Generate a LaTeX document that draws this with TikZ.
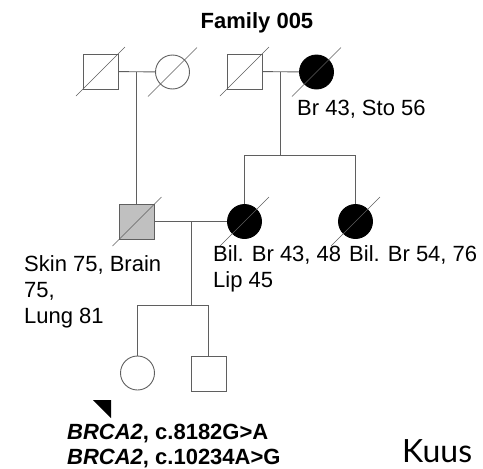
\documentclass[tikz,border=0pt]{standalone}
\usepackage{fontspec}
\setmainfont{Liberation Sans}
\newfontfamily\captionfont{Lato}
\usetikzlibrary{positioning,calc}
\definecolor{linecolor}{RGB}{95,95,95}
\definecolor{carriercolor}{RGB}{192,192,192}
\definecolor{affectedcolor}{RGB}{0,0,0}
\tikzset{
    person/.style={
        inner sep=0pt,
        draw=linecolor,
        line width=0.9pt,
        fill=white
    },
    male/.style={person, rectangle, minimum size=35pt},
    female/.style={person, circle, minimum size=34pt},
    affected/.style={fill=affectedcolor, draw=black},
    carrier/.style={fill=carriercolor},
    line/.style={draw=linecolor, line width=0.9pt},
    slash/.style={draw=linecolor, line width=0.6pt},
    infotext/.style={
        anchor=base west,
        inner sep=0pt,
        align=left,
        font=\fontsize{22}{26}\selectfont
    }
}

\begin{document}
\begin{tikzpicture}[x=1pt, y=-1pt]
    \useasboundingbox (0,0) rectangle (483,469);
    \node[font=\fontsize{22}{26}\selectfont\bfseries, anchor=base, inner sep=0pt] (title) at (257,28) {Family 005};

    % Generation I
    \node[male] (gf1) at (100.5,71.5) {};
    \node[female] (gm1) at (172.5,72) {};
    \node[male] (gf2) at (244.5,71.5) {};
    \node[female, affected] (gm2) at (316.5,72) {};

    % Generation II
    \node[male, carrier] (father) at (137,221.5) {};
    \node[female, affected] (mother) at (244.5,221.5) {};
    \node[female, affected] (aunt) at (355.5,221.5) {};

    % Generation III
    \node[female] (proband) at (137.5,373) {};
    \node[male] (brother) at (208.5,373.5) {};

    % Deceased
    \foreach \n in {gf1,gm1,gf2,gm2,father,mother,aunt}
        \draw[slash] ([shift={(-24.5,24.5)}]\n.center) -- ([shift={(24.5,-24.5)}]\n.center);

    % Marriages and descent
    \coordinate (m1) at ($(gf1.east)!0.5!(gm1.west)$);
    \coordinate (m2) at ($(gf2.east)!0.5!(gm2.west)$);
    \coordinate (m3) at ($(father.east)!0.5!(mother.west)$);
    \coordinate (sib2) at ($(m2)+(0,83.5)$);
    \coordinate (sib3) at ($(m3)+(0,83.5)$);
    \draw[line] (gf1) -- (gm1);
    \draw[line] (gf2) -- (gm2);
    \draw[line] (father) -- (mother);
    \draw[line] (m1) -- (m1 |- father.north);
    \draw[line] (m2) -- (sib2);
    \draw[line] (mother.north) -- (mother.north |- sib2) -- (aunt.north |- sib2) -- (aunt.north);
    \draw[line] (m3) -- (sib3);
    \draw[line] (proband.north) -- (proband.north |- sib3) -- (brother.north |- sib3) -- (brother.north);

    % Proband
    \fill (93,400) -- (111,400) -- (111,418) -- cycle;

    % Labels
    \node[infotext] (gm2txt) at (297,115) {Br 43, Sto 56};
    \node[infotext] (fathertxt) at (24,323.5) {Skin 75, Brain\\75,\\Lung 81};
    \node[infotext] (mothertxt) at (213,287) {Bil. Br 43, 48\\Lip 45};
    \node[infotext] (aunttxt) at (349,261) {Bil. Br 54, 76};
    \node[infotext, font=\fontsize{22}{25}\selectfont\bfseries] (variant) at (67,464) {\textit{BRCA2}, c.8182G>A\\\textit{BRCA2}, c.10234A>G};
    \node[anchor=base west, inner sep=0pt, font=\captionfont\fontsize{32}{40}\selectfont] (kuus) at (402,462) {Kuus};
\end{tikzpicture}
\end{document}
